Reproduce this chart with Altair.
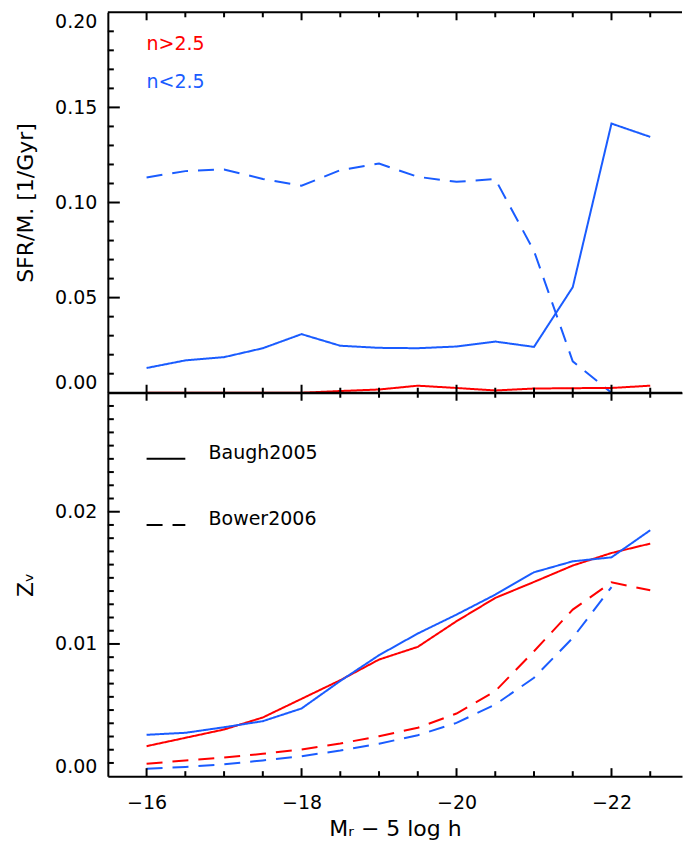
import altair as alt
import pandas as pd

# Absolute magnitude bins, M_r - 5 log h
mags = [-16, -16.5, -17, -17.5, -18, -18.5, -19, -19.5, -20, -20.5, -21, -21.5, -22, -22.5]

# Specific star formation rate [1/Gyr]
sfr_late_baugh = [0.013, 0.017, 0.0187, 0.0234, 0.0308, 0.0247, 0.0236, 0.0234, 0.0243, 0.0269, 0.0241, 0.0555, 0.1415, 0.1345]
sfr_late_bower = [0.1132, 0.1165, 0.1174, 0.1124, 0.1088, 0.117, 0.1205, 0.1135, 0.1109, 0.1123, 0.0745, 0.0165, 0.0, None]
sfr_early_baugh = [0.0, 0.0, 0.0, 0.0, 0.0, 0.0009, 0.0017, 0.0037, 0.0025, 0.0012, 0.0022, 0.0024, 0.0025, 0.0037]

# V-weighted stellar metallicity
z_late_baugh = [0.00313, 0.00328, 0.0037, 0.00416, 0.00512, 0.0072, 0.00915, 0.01079, 0.01222, 0.01373, 0.01542, 0.01625, 0.01655, 0.0186]
z_early_baugh = [0.00227, 0.0029, 0.00353, 0.00444, 0.00585, 0.00726, 0.00882, 0.00978, 0.01172, 0.01348, 0.01469, 0.01593, 0.01688, 0.01759]
z_late_bower = [0.00056, 0.0007, 0.0009, 0.00119, 0.00151, 0.00194, 0.00245, 0.0031, 0.00403, 0.00542, 0.00744, 0.01046, 0.0143, None]
z_early_bower = [0.00094, 0.00119, 0.00141, 0.00169, 0.00202, 0.00247, 0.00302, 0.00366, 0.00474, 0.00643, 0.00945, 0.0126, 0.01466, 0.01406]

samples = ["n>2.5", "n<2.5"]
models = ["Baugh2005", "Bower2006"]

x_major = [-16, -18, -20, -22]
x_minor = [-16.5, -17, -17.5, -18.5, -19, -19.5, -20.5, -21, -21.5, -22.5]
sfr_major = [0.05, 0.10, 0.15]
sfr_minor = [0.01, 0.02, 0.03, 0.04, 0.06, 0.07, 0.08, 0.09, 0.11, 0.12, 0.13, 0.14, 0.16, 0.17, 0.18, 0.19]
z_major = [0.01, 0.02]
z_minor = [0.001, 0.002, 0.003, 0.004, 0.005, 0.006, 0.007, 0.008, 0.009,
           0.011, 0.012, 0.013, 0.014, 0.015, 0.016, 0.017, 0.018, 0.019,
           0.021, 0.022, 0.023, 0.024, 0.025, 0.026, 0.027, 0.028]

RED = "#ff0000"
BLUE = "#1a5cff"
FONT = "DejaVu Sans"
FS = 19
TFS = 22

W = 575
H1 = 381
H2 = 384

xscale = alt.Scale(domain=[-15.5, -22.91], nice=False, zero=False)
yscale_sfr = alt.Scale(domain=[0, 0.2], nice=False, zero=False)
yscale_z = alt.Scale(domain=[0, 0.029], nice=False, zero=False)

color_scale = alt.Scale(domain=samples, range=[RED, BLUE])
dash_scale = alt.Scale(domain=models, range=[[1, 0], [16, 10]])

axis_common = dict(grid=False, ticks=False, tickSize=0, domain=True, domainColor="black",
                   domainWidth=2, labelFont=FONT, labelFontSize=FS, labelColor="black",
                   titleFont=FONT, titleFontSize=TFS, titleFontWeight="normal",
                   titleColor="black", zindex=1)

x_axis_top = alt.Axis(labels=False, title=None, **axis_common)
y_axis_top = alt.Axis(values=[0, 0.05, 0.10, 0.15, 0.20], format=".2f",
                      labelFlush=True, labelPadding=11,
                      title="SFR/M. [1/Gyr]", titleAngle=270, titleX=-82,
                      titleY=H1 / 2, titleBaseline="middle", titleAlign="center",
                      **axis_common)
x_axis_bottom = alt.Axis(values=x_major, format="d", labelPadding=17, labelFlush=False,
                         title="Mᵣ − 5 log h", titleY=52, titleBaseline="middle",
                         **axis_common)
y_axis_bottom = alt.Axis(values=[0, 0.01, 0.02], format=".2f",
                         labelFlush=True, labelPadding=11,
                         title="Zᵥ", titleAngle=270, titleX=-82,
                         titleY=H2 / 2, titleBaseline="middle", titleAlign="center",
                         **axis_common)


def long_table(series):
    rows = []
    for sample, model, vals in series:
        for m, v in zip(mags, vals):
            if v is not None:
                rows.append({"mag": m, "val": v, "sample": sample, "model": model})
    return pd.DataFrame(rows)


def tick_layers(xaxis, yaxis, yscale, height, y_major, y_minor):
    """Inward-pointing tick marks along the panel edges."""
    layers = []
    for vals, ln in ((x_major, 8), (x_minor, 5)):
        df = pd.DataFrame({"mag": vals})
        base = alt.Chart(df).mark_rule(color="black", strokeWidth=2)
        layers.append(base.encode(x=alt.X("mag:Q", scale=xscale, axis=xaxis),
                                  y=alt.value(height), y2=alt.value(height - ln)))
        layers.append(base.encode(x=alt.X("mag:Q", scale=xscale, axis=xaxis),
                                  y=alt.value(0), y2=alt.value(ln)))
    for vals, ln in ((y_major, 12), (y_minor, 6)):
        df = pd.DataFrame({"val": vals})
        base = alt.Chart(df).mark_rule(color="black", strokeWidth=2)
        layers.append(base.encode(y=alt.Y("val:Q", scale=yscale, axis=yaxis),
                                  x=alt.value(0), x2=alt.value(ln)))
    return layers


def top_border():
    return alt.Chart(pd.DataFrame({"k": [0]})).mark_rule(color="black", strokeWidth=2).encode(
        x=alt.value(0), x2=alt.value(W), y=alt.value(0))


# ---- top panel: specific star formation rate ----
sfr_df = long_table([
    ("n<2.5", "Baugh2005", sfr_late_baugh),
    ("n<2.5", "Bower2006", sfr_late_bower),
    ("n>2.5", "Baugh2005", sfr_early_baugh),
])

sfr_lines = alt.Chart(sfr_df).mark_line(strokeWidth=2, clip=True).encode(
    x=alt.X("mag:Q", scale=xscale, axis=x_axis_top),
    y=alt.Y("val:Q", scale=yscale_sfr, axis=y_axis_top),
    color=alt.Color("sample:N", scale=color_scale, legend=None),
    strokeDash=alt.StrokeDash("model:N", scale=dash_scale, legend=None),
)

sample_labels = pd.DataFrame({"mag": [-16, -16], "val": [0.18, 0.16], "sample": samples})
sfr_text = alt.Chart(sample_labels).mark_text(
    align="left", baseline="alphabetic", font=FONT, fontSize=FS).encode(
    x=alt.X("mag:Q", scale=xscale, axis=x_axis_top),
    y=alt.Y("val:Q", scale=yscale_sfr, axis=y_axis_top),
    text="sample:N",
    color=alt.Color("sample:N", scale=color_scale, legend=None),
)

top = alt.layer(
    sfr_lines, sfr_text,
    *tick_layers(x_axis_top, y_axis_top, yscale_sfr, H1, sfr_major, sfr_minor),
    top_border()
).properties(width=W, height=H1)

# ---- bottom panel: stellar metallicity ----
z_df = long_table([
    ("n>2.5", "Baugh2005", z_early_baugh),
    ("n<2.5", "Baugh2005", z_late_baugh),
    ("n>2.5", "Bower2006", z_early_bower),
    ("n<2.5", "Bower2006", z_late_bower),
])

z_lines = alt.Chart(z_df).mark_line(strokeWidth=2, clip=True).encode(
    x=alt.X("mag:Q", scale=xscale, axis=x_axis_bottom),
    y=alt.Y("val:Q", scale=yscale_z, axis=y_axis_bottom),
    color=alt.Color("sample:N", scale=color_scale, legend=None),
    strokeDash=alt.StrokeDash("model:N", scale=dash_scale, legend=None),
)

# model key: line samples and names
key_lines = pd.DataFrame({
    "mag": [-16, -16.5, -16, -16.5],
    "val": [0.024, 0.024, 0.019, 0.019],
    "model": ["Baugh2005", "Baugh2005", "Bower2006", "Bower2006"],
})
key_text = pd.DataFrame({"mag": [-16.8, -16.8], "val": [0.024, 0.019], "model": models})

z_key_lines = alt.Chart(key_lines).mark_line(strokeWidth=2, color="black").encode(
    x=alt.X("mag:Q", scale=xscale, axis=x_axis_bottom),
    y=alt.Y("val:Q", scale=yscale_z, axis=y_axis_bottom),
    strokeDash=alt.StrokeDash("model:N", scale=dash_scale, legend=None),
    detail="model:N",
)
z_key_text = alt.Chart(key_text).mark_text(
    align="left", baseline="alphabetic", font=FONT, fontSize=FS, color="black").encode(
    x=alt.X("mag:Q", scale=xscale, axis=x_axis_bottom),
    y=alt.Y("val:Q", scale=yscale_z, axis=y_axis_bottom),
    text="model:N",
)

bottom = alt.layer(
    z_lines, z_key_lines, z_key_text,
    *tick_layers(x_axis_bottom, y_axis_bottom, yscale_z, H2, z_major, z_minor),
    top_border()
).properties(width=W, height=H2)

chart = alt.vconcat(top, bottom, spacing=0, bounds="flush").properties(
    padding={"left": 15, "top": 10.7, "right": 0, "bottom": 0}
).configure_view(strokeWidth=0)

chart.save("out.html", embed_options={"renderer": "svg", "actions": False})
